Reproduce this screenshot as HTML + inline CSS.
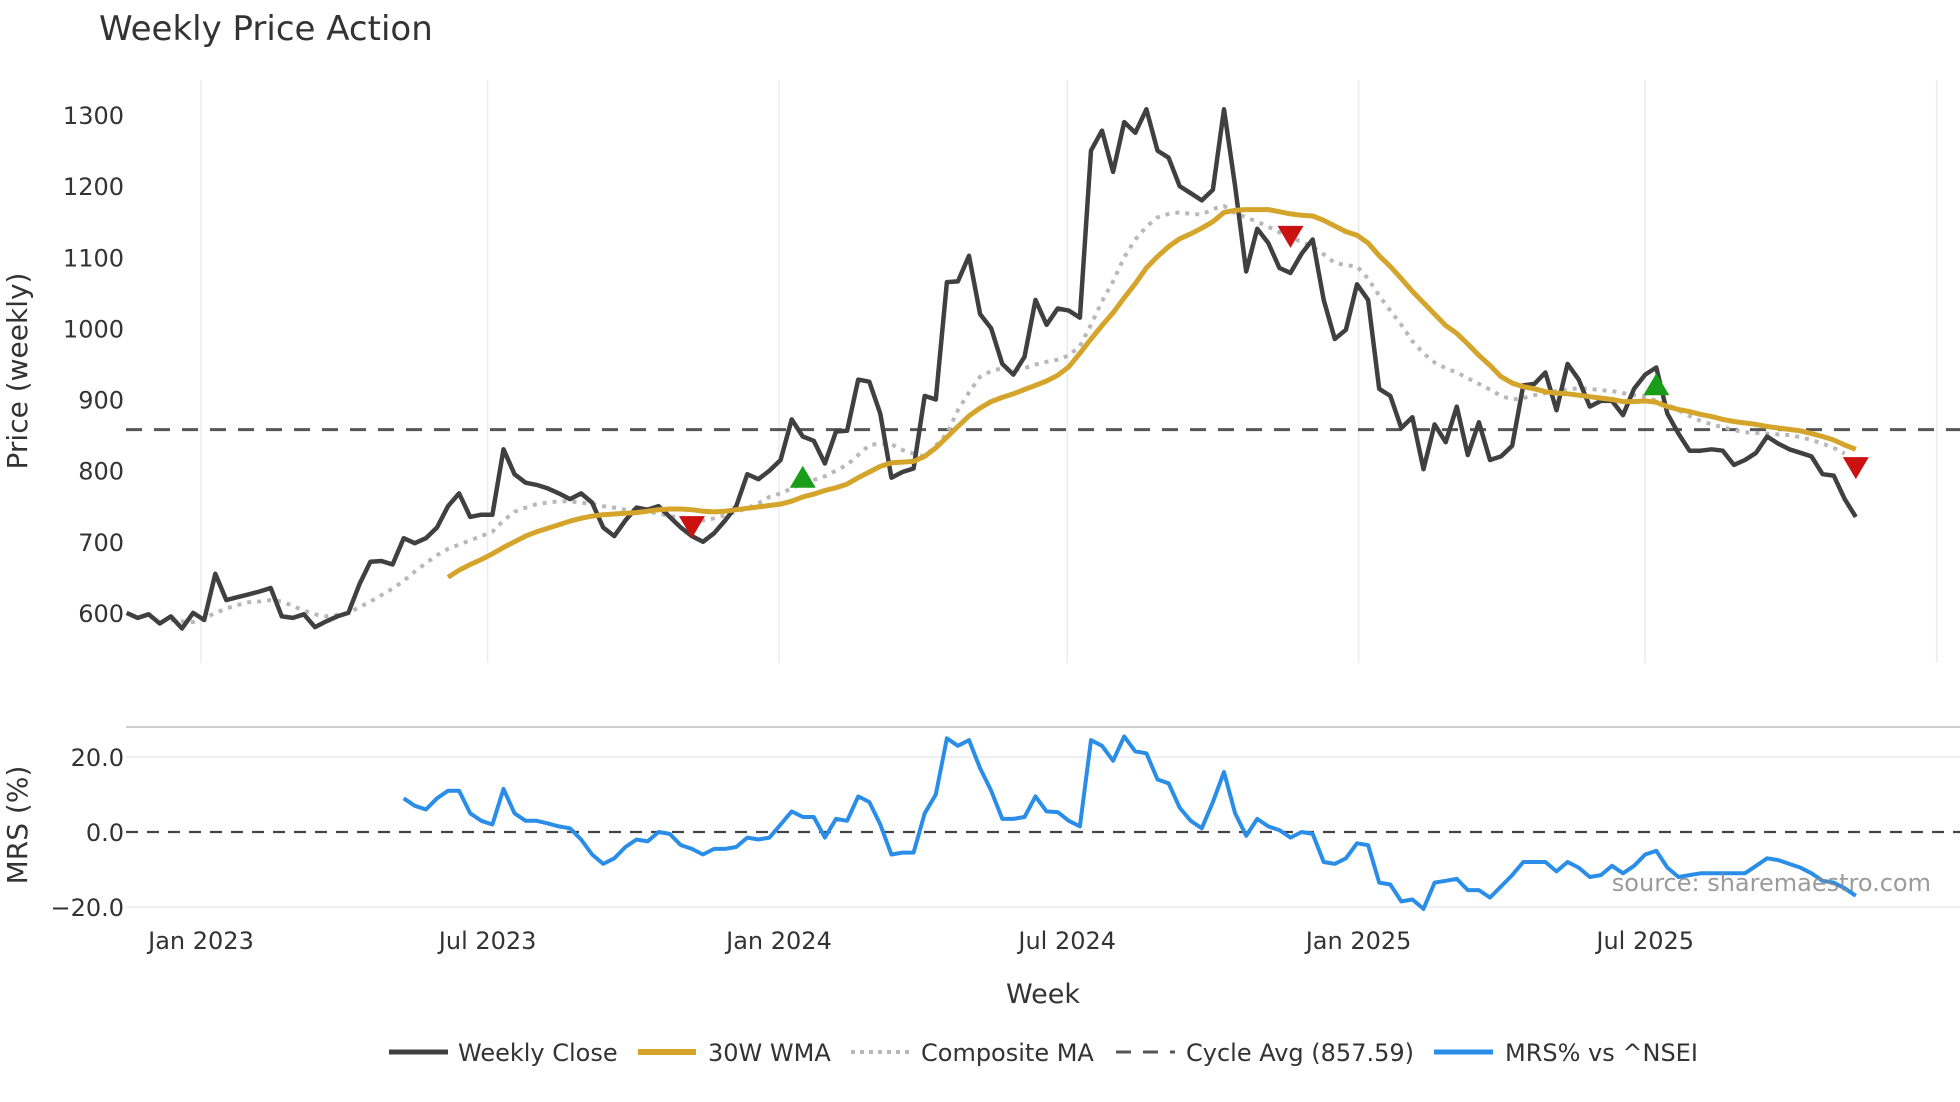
<!DOCTYPE html>
<html><head><meta charset="utf-8"><style>
html,body{margin:0;padding:0;background:#fff;}
svg{display:block;font-family:"DejaVu Sans","Liberation Sans",sans-serif;}
</style></head><body>
<svg id="chart" width="1960" height="1102" viewBox="0 0 1960 1102" xmlns="http://www.w3.org/2000/svg">
<text x="99" y="40" font-size="34" fill="#333">Weekly Price Action</text>
<g id="grid"></g>
<g id="series"></g>
<g id="axes"></g>
<text transform="translate(27,371) rotate(-90)" text-anchor="middle" font-size="28" fill="#333">Price (weekly)</text>
<text transform="translate(27,825) rotate(-90)" text-anchor="middle" font-size="28" fill="#333">MRS (%)</text>
<text x="1043" y="1003" text-anchor="middle" font-size="27" fill="#333">Week</text>
<text x="1931" y="891" text-anchor="end" font-size="24" fill="#8a8a8a" fill-opacity="0.85">source: sharemaestro.com</text>
<g font-size="24" fill="#333">
  <g><line x1="389" y1="1052" x2="448" y2="1052" stroke="#404040" stroke-width="5"/><text x="458" y="1061">Weekly Close</text></g>
  <g><line x1="638" y1="1052" x2="696" y2="1052" stroke="#d4a52a" stroke-width="6"/><text x="708" y="1061">30W WMA</text></g>
  <g><line x1="851" y1="1052" x2="910" y2="1052" stroke="#b8b8b8" stroke-width="4" stroke-dasharray="4 5"/><text x="921" y="1061">Composite MA</text></g>
  <g><line x1="1116" y1="1052" x2="1175" y2="1052" stroke="#555" stroke-width="3" stroke-dasharray="15 12"/><text x="1186" y="1061">Cycle Avg (857.59)</text></g>
  <g><line x1="1434" y1="1052" x2="1493" y2="1052" stroke="#2a8ee8" stroke-width="5"/><text x="1505" y="1061">MRS% vs ^NSEI</text></g>
</g>
</svg>
<script>
const startDate = "2022-11-15";
const closeVals = [600,593,598,585,595,578,600,590,655,618,622,626,630,635,595,593,598,580,588,595,600,640,672,673,668,705,698,705,720,750,768,735,738,738,830,795,783,780,775,768,760,768,755,720,708,730,748,745,750,735,720,708,700,712,730,750,795,788,800,815,872,848,842,810,855,856,928,925,880,790,798,803,905,900,1065,1066,1102,1020,1000,950,935,960,1040,1005,1028,1025,1015,1250,1278,1220,1290,1275,1308,1250,1240,1200,1190,1180,1195,1308,1200,1080,1140,1120,1085,1078,1105,1125,1040,985,998,1062,1040,915,905,860,875,802,865,840,890,822,868,815,820,835,920,922,938,885,950,928,890,898,898,878,915,935,945,880,852,828,828,830,828,808,815,825,848,838,830,825,820,795,793,760,735];
const wmaStart = 29;
const wmaVals = [650,660,668,675,683,692,700,708,714,719,724,729,733,736,738,739,740,741,743,745,746,746,745,743,742,743,745,747,749,751,753,757,763,767,772,776,781,790,798,806,811,812,813,820,832,847,862,877,888,897,903,908,914,920,926,934,946,965,985,1004,1022,1043,1063,1085,1101,1115,1126,1133,1141,1150,1163,1166,1167,1167,1167,1164,1161,1159,1158,1152,1144,1136,1131,1120,1102,1087,1070,1052,1036,1020,1004,993,978,962,948,932,923,918,915,911,909,908,906,904,902,900,897,897,898,896,890,886,883,879,876,872,869,867,865,862,860,858,856,852,848,843,836,830];
const compStart = 4;
const compVals = [590,588,587,592,600,606,611,615,616,618,616,610,603,598,595,597,600,608,616,625,634,645,658,670,681,690,696,702,708,714,730,742,748,753,755,757,757,755,753,750,748,745,744,742,740,736,734,732,730,733,737,742,747,754,763,768,775,782,787,792,800,808,822,836,838,837,829,824,820,835,852,885,910,932,940,944,941,944,949,953,956,962,975,1005,1038,1066,1100,1125,1143,1156,1161,1163,1161,1160,1168,1172,1162,1156,1150,1143,1135,1127,1122,1115,1104,1092,1089,1087,1070,1046,1025,1005,982,965,952,944,938,930,922,914,905,900,902,906,909,912,914,916,915,913,912,909,906,904,898,893,885,877,870,865,861,857,854,853,852,851,850,847,843,838,832,824];
const cycleAvg = 857.59;
const mrsStart = 25;
const mrsVals = [9,7,6,9,11,11,5,3,2,11.5,5,3,3,2.3,1.5,1,-2,-6,-8.5,-7,-4,-2,-2.5,0,-0.5,-3.5,-4.5,-6,-4.5,-4.5,-4,-1.5,-2,-1.5,2,5.5,4,4,-1.5,3.5,3,9.5,8,2,-6,-5.5,-5.5,5,10,25,23,24.5,17,11,3.5,3.5,4,9.5,5.5,5.3,3,1.5,24.5,23,19,25.5,21.5,21,14,13,6.5,3,1,8,16,5,-1,3.5,1.5,0.5,-1.5,0,-0.5,-8,-8.5,-7,-3,-3.5,-13.5,-14,-18.5,-18,-20.5,-13.5,-13,-12.5,-15.5,-15.5,-17.5,-14.5,-11.5,-8,-8,-8,-10.5,-8,-9.5,-12,-11.5,-9,-11,-9,-6,-5,-9.5,-12,-11.5,-11,-11,-11,-11,-11,-9,-7,-7.5,-8.5,-9.5,-11,-13,-13.5,-15,-17];
const signalIdx = [51,61,105,138,156];
const signalVals = [722,790,1130,920,805];
const signalDir = ["down","up","down","up","down"];
const priceTicks = [600,700,800,900,1000,1100,1200,1300];
const mrsTicks = [-20,0,20];
const mrsTickLabels = ["\u221220.0","0.0","20.0"];
const xTickDates = ["2023-01-01","2023-07-01","2024-01-01","2024-07-01","2025-01-01","2025-07-01","2026-01-01"];
const xTickLabels = ["Jan 2023","Jul 2023","Jan 2024","Jul 2024","Jan 2025","Jul 2025",""];

const NS="http://www.w3.org/2000/svg";
const DAY=86400000;
const t0=Date.parse("2023-01-01"), x0=201, pxPerDay=578/365;
function xDate(d){return x0+(Date.parse(d)-t0)/DAY*pxPerDay;}
const s0=Date.parse(startDate);
function xIdx(i){return x0+((s0+i*7*DAY)-t0)/DAY*pxPerDay;}
function yP(v){return 115+(1300-v)*0.71125;}
function yM(v){return 832-v*3.75;}
function mk(tag,attrs,parent){const e=document.createElementNS(NS,tag);for(const k in attrs)e.setAttribute(k,attrs[k]);parent.appendChild(e);return e;}
const gridG=document.getElementById('grid'),ser=document.getElementById('series'),axesG=document.getElementById('axes');

xTickDates.forEach((d,k)=>{
  const x=xDate(d);
  const g=mk('line',{x1:x,y1:80,x2:x,y2:663,stroke:'#e8ecf0','stroke-width':1.5},gridG);
  
  
  if(xTickLabels[k]){
    const t=mk('text',{x:x,y:949,'text-anchor':'middle','font-size':24,fill:'#333'},axesG);
    t.textContent=xTickLabels[k];
    
    
  }
});
priceTicks.forEach(v=>{
  const t=mk('text',{x:124,y:yP(v)+9,'text-anchor':'end','font-size':24,fill:'#333'},axesG);
  t.textContent=v;
  
  
});
mrsTicks.forEach((v,k)=>{
  if(v!==0){
    const g=mk('line',{x1:126,y1:yM(v),x2:1960,y2:yM(v),stroke:'#eef0f3','stroke-width':2},gridG);
    
    
  }
  const t=mk('text',{x:124,y:yM(v)+9,'text-anchor':'end','font-size':24,fill:'#333'},axesG);
  t.textContent=mrsTickLabels[k];
  
  
});
const panelTop=mk('line',{x1:126,y1:727,x2:1960,y2:727,stroke:'#cfcfcf','stroke-width':2},gridG);



function pathD(vals,start,yf){return vals.map((v,i)=>(i?'L':'M')+xIdx(start+i).toFixed(1)+' '+yf(v).toFixed(1)).join(' ');}

const cyc=mk('line',{x1:126,y1:yP(cycleAvg),x2:1960,y2:yP(cycleAvg),stroke:'#555','stroke-width':3,'stroke-dasharray':'16 12'},ser);


const zero=mk('line',{x1:126,y1:yM(0),x2:1960,y2:yM(0),stroke:'#444','stroke-width':2.2,'stroke-dasharray':'12 9'},ser);



const comp=mk('path',{d:pathD(compVals,compStart,yP),fill:'none',stroke:'#b8b8b8','stroke-width':4,'stroke-dasharray':'4 6'},ser);


const cl=mk('path',{d:pathD(closeVals,0,yP),fill:'none',stroke:'#404040','stroke-width':4.5,'stroke-linejoin':'round'},ser);


const wma=mk('path',{d:pathD(wmaVals,wmaStart,yP),fill:'none',stroke:'#d4a52a','stroke-width':5,'stroke-linejoin':'round'},ser);


const mrs=mk('path',{d:pathD(mrsVals,mrsStart,yM),fill:'none',stroke:'#2a8ee8','stroke-width':4,'stroke-linejoin':'round'},ser);



signalIdx.forEach((idx,k)=>{
  const x=xIdx(idx),y=yP(signalVals[k]);
  const pts=signalDir[k]==='up'?`${x-13},${y+10} ${x+13},${y+10} ${x},${y-12}`:`${x-13},${y-10} ${x+13},${y-10} ${x},${y+12}`;
  const p=mk('polygon',{points:pts,fill:signalDir[k]==='up'?'#1a9e1a':'#cc1111'},ser);
  
  
});
</script>
</body></html>
